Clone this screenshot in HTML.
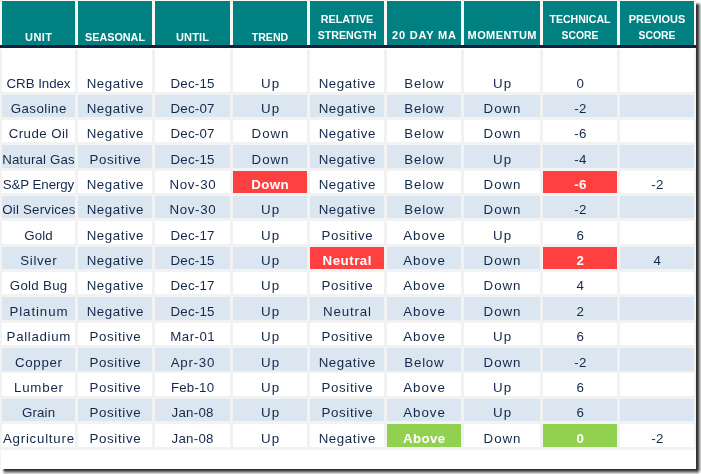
<!DOCTYPE html>
<html><head><meta charset="utf-8"><title>Seasonal technical score table</title>
<style>
html,body{margin:0;padding:0;background:#fff;}
body{width:701px;height:474px;overflow:hidden;position:relative;font-family:"Liberation Sans",sans-serif;}
#f{position:absolute;left:0;top:0;width:696px;height:469px;background:#fff;overflow:hidden;}
#f div{position:absolute;box-sizing:border-box;}
.hg{background:#f8f5f5;}
.h{background:#008080;color:#fff;font-weight:bold;font-size:11.0px;text-align:center;white-space:nowrap;}
.h span{position:absolute;left:0;right:0;line-height:16px;height:16px;}
.bg{background:#f2f2f2;}
.sr{position:absolute;left:696px;top:2px;width:5px;height:467px;background:linear-gradient(to right,#333 .5px,#3a3a3a 1.5px,#666 2.5px,#999 3.5px,#ccc 4.5px,#e4e4e4 5px);-webkit-mask-image:linear-gradient(to bottom,transparent 0,#000 3.6px);mask-image:linear-gradient(to bottom,transparent 0,#000 3.6px);}
.sb{position:absolute;left:2px;top:469px;width:694px;height:5px;background:linear-gradient(to bottom,#2e2e2e .5px,#484848 1.5px,#777 2.5px,#a5a5a5 3.5px,#ccc 4.5px,#e4e4e4 5px);-webkit-mask-image:linear-gradient(to right,transparent 0,#000 3px);mask-image:linear-gradient(to right,transparent 0,#000 3px);}
.sc{position:absolute;left:696px;top:469px;width:5px;height:5px;background:radial-gradient(circle at 0 0,#303030 .5px,#404040 1.5px,#6e6e6e 2.5px,#9f9f9f 3.5px,#ccc 4.5px,#f0f0f0 5.5px,#fff 6px);}
.c{color:#14284a;font-size:13.3px;letter-spacing:.4px;text-align:center;white-space:nowrap;overflow:hidden;}
.c span{position:absolute;left:0;right:0;bottom:0;line-height:20px;height:18px;}
.w{background:#fff;}
.b{background:#dce6f1;}
.r{background:#ff4040;color:#fff;font-weight:bold;}
.g{background:#92d050;color:#fff;font-weight:bold;}
</style></head><body><div id="f">

<div class="hg" style="left:0;top:0;width:696px;height:45px"></div>
<div class="h" style="left:2px;top:1px;width:73px;height:44px"><span style="top:27.5px;letter-spacing:0.38px;padding-left:0.38px">UNIT</span></div>
<div class="h" style="left:78px;top:1px;width:74px;height:44px"><span style="top:27.5px;transform:scaleX(0.981)">SEASONAL</span></div>
<div class="h" style="left:155px;top:1px;width:75px;height:44px"><span style="top:27.5px;letter-spacing:0.15px;padding-left:0.15px">UNTIL</span></div>
<div class="h" style="left:233px;top:1px;width:74px;height:44px"><span style="top:27.5px;transform:scaleX(0.965)">TREND</span></div>
<div class="h" style="left:310px;top:1px;width:74px;height:44px"><span style="top:9.7px;transform:scaleX(0.981)">RELATIVE</span><span style="top:25.7px;transform:scaleX(0.971)">STRENGTH</span></div>
<div class="h" style="left:387px;top:1px;width:74px;height:44px"><span style="top:25.7px;letter-spacing:0.79px;padding-left:0.79px">20 DAY MA</span></div>
<div class="h" style="left:464px;top:1px;width:76px;height:44px"><span style="top:25.7px;letter-spacing:0.4px;padding-left:0.4px">MOMENTUM</span></div>
<div class="h" style="left:543px;top:1px;width:74px;height:44px"><span style="top:9.7px;transform:scaleX(0.959)">TECHNICAL</span><span style="top:25.7px;transform:scaleX(0.944)">SCORE</span></div>
<div class="h" style="left:620px;top:1px;width:74px;height:44px"><span style="top:9.7px;transform:scaleX(0.994)">PREVIOUS</span><span style="top:25.7px;transform:scaleX(0.944)">SCORE</span></div>
<div style="left:0;top:45px;width:696px;height:3px;background:#0f2040"></div>
<div class="bg" style="left:0;top:49px;width:696px;height:401px"></div>
<div class="c w" style="left:2px;top:49px;width:73px;height:43px"><span style="letter-spacing:-0.04px;padding-left:0px">CRB Index</span></div>
<div class="c w" style="left:78px;top:49px;width:74px;height:43px"><span style="letter-spacing:0.6px;padding-left:0.6px">Negative</span></div>
<div class="c w" style="left:155px;top:49px;width:75px;height:43px"><span style="letter-spacing:0.21px;padding-left:0.21px">Dec-15</span></div>
<div class="c w" style="left:233px;top:49px;width:74px;height:43px"><span style="letter-spacing:1.2px;padding-left:1.2px">Up</span></div>
<div class="c w" style="left:310px;top:49px;width:74px;height:43px"><span style="letter-spacing:0.6px;padding-left:0.6px">Negative</span></div>
<div class="c w" style="left:387px;top:49px;width:74px;height:43px"><span style="letter-spacing:0.77px;padding-left:0.77px">Below</span></div>
<div class="c w" style="left:464px;top:49px;width:76px;height:43px"><span style="letter-spacing:1.2px;padding-left:1.2px">Up</span></div>
<div class="c w" style="left:543px;top:49px;width:74px;height:43px"><span style="padding-left:1px">0</span></div>
<div class="c w" style="left:620px;top:49px;width:74px;height:43px"><span></span></div>
<div class="c b" style="left:2px;top:95px;width:73px;height:22px"><span style="letter-spacing:0.46px;padding-left:0.46px">Gasoline</span></div>
<div class="c b" style="left:78px;top:95px;width:74px;height:22px"><span style="letter-spacing:0.6px;padding-left:0.6px">Negative</span></div>
<div class="c b" style="left:155px;top:95px;width:75px;height:22px"><span style="letter-spacing:0.21px;padding-left:0.21px">Dec-07</span></div>
<div class="c b" style="left:233px;top:95px;width:74px;height:22px"><span style="letter-spacing:1.2px;padding-left:1.2px">Up</span></div>
<div class="c b" style="left:310px;top:95px;width:74px;height:22px"><span style="letter-spacing:0.6px;padding-left:0.6px">Negative</span></div>
<div class="c b" style="left:387px;top:95px;width:74px;height:22px"><span style="letter-spacing:0.77px;padding-left:0.77px">Below</span></div>
<div class="c b" style="left:464px;top:95px;width:76px;height:22px"><span style="letter-spacing:0.93px;padding-left:0.93px">Down</span></div>
<div class="c b" style="left:543px;top:95px;width:74px;height:22px"><span style="padding-left:1px">-2</span></div>
<div class="c b" style="left:620px;top:95px;width:74px;height:22px"><span></span></div>
<div class="c w" style="left:2px;top:120px;width:73px;height:22px"><span style="letter-spacing:0.42px;padding-left:0.42px">Crude Oil</span></div>
<div class="c w" style="left:78px;top:120px;width:74px;height:22px"><span style="letter-spacing:0.6px;padding-left:0.6px">Negative</span></div>
<div class="c w" style="left:155px;top:120px;width:75px;height:22px"><span style="letter-spacing:0.21px;padding-left:0.21px">Dec-07</span></div>
<div class="c w" style="left:233px;top:120px;width:74px;height:22px"><span style="letter-spacing:0.93px;padding-left:0.93px">Down</span></div>
<div class="c w" style="left:310px;top:120px;width:74px;height:22px"><span style="letter-spacing:0.6px;padding-left:0.6px">Negative</span></div>
<div class="c w" style="left:387px;top:120px;width:74px;height:22px"><span style="letter-spacing:0.77px;padding-left:0.77px">Below</span></div>
<div class="c w" style="left:464px;top:120px;width:76px;height:22px"><span style="letter-spacing:0.93px;padding-left:0.93px">Down</span></div>
<div class="c w" style="left:543px;top:120px;width:74px;height:22px"><span style="padding-left:1px">-6</span></div>
<div class="c w" style="left:620px;top:120px;width:74px;height:22px"><span></span></div>
<div class="c b" style="left:2px;top:145px;width:73px;height:23px"><span style="letter-spacing:0.16px;padding-left:0.16px">Natural Gas</span></div>
<div class="c b" style="left:78px;top:145px;width:74px;height:23px"><span style="letter-spacing:0.66px;padding-left:0.66px">Positive</span></div>
<div class="c b" style="left:155px;top:145px;width:75px;height:23px"><span style="letter-spacing:0.21px;padding-left:0.21px">Dec-15</span></div>
<div class="c b" style="left:233px;top:145px;width:74px;height:23px"><span style="letter-spacing:0.93px;padding-left:0.93px">Down</span></div>
<div class="c b" style="left:310px;top:145px;width:74px;height:23px"><span style="letter-spacing:0.6px;padding-left:0.6px">Negative</span></div>
<div class="c b" style="left:387px;top:145px;width:74px;height:23px"><span style="letter-spacing:0.77px;padding-left:0.77px">Below</span></div>
<div class="c b" style="left:464px;top:145px;width:76px;height:23px"><span style="letter-spacing:1.2px;padding-left:1.2px">Up</span></div>
<div class="c b" style="left:543px;top:145px;width:74px;height:23px"><span style="padding-left:1px">-4</span></div>
<div class="c b" style="left:620px;top:145px;width:74px;height:23px"><span></span></div>
<div class="c w" style="left:2px;top:171px;width:73px;height:22px"><span style="letter-spacing:-0.08px;padding-left:0px">S&amp;P Energy</span></div>
<div class="c w" style="left:78px;top:171px;width:74px;height:22px"><span style="letter-spacing:0.6px;padding-left:0.6px">Negative</span></div>
<div class="c w" style="left:155px;top:171px;width:75px;height:22px"><span style="letter-spacing:0.67px;padding-left:0.67px">Nov-30</span></div>
<div class="c r" style="left:233px;top:171px;width:74px;height:22px"><span style="letter-spacing:0.4px;padding-left:0.4px">Down</span></div>
<div class="c w" style="left:310px;top:171px;width:74px;height:22px"><span style="letter-spacing:0.6px;padding-left:0.6px">Negative</span></div>
<div class="c w" style="left:387px;top:171px;width:74px;height:22px"><span style="letter-spacing:0.77px;padding-left:0.77px">Below</span></div>
<div class="c w" style="left:464px;top:171px;width:76px;height:22px"><span style="letter-spacing:0.93px;padding-left:0.93px">Down</span></div>
<div class="c r" style="left:543px;top:171px;width:74px;height:22px"><span style="padding-left:1px">-6</span></div>
<div class="c w" style="left:620px;top:171px;width:74px;height:22px"><span style="padding-left:1px">-2</span></div>
<div class="c b" style="left:2px;top:196px;width:73px;height:22px"><span style="letter-spacing:0.21px;padding-left:0.21px">Oil Services</span></div>
<div class="c b" style="left:78px;top:196px;width:74px;height:22px"><span style="letter-spacing:0.6px;padding-left:0.6px">Negative</span></div>
<div class="c b" style="left:155px;top:196px;width:75px;height:22px"><span style="letter-spacing:0.67px;padding-left:0.67px">Nov-30</span></div>
<div class="c b" style="left:233px;top:196px;width:74px;height:22px"><span style="letter-spacing:1.2px;padding-left:1.2px">Up</span></div>
<div class="c b" style="left:310px;top:196px;width:74px;height:22px"><span style="letter-spacing:0.6px;padding-left:0.6px">Negative</span></div>
<div class="c b" style="left:387px;top:196px;width:74px;height:22px"><span style="letter-spacing:0.77px;padding-left:0.77px">Below</span></div>
<div class="c b" style="left:464px;top:196px;width:76px;height:22px"><span style="letter-spacing:0.93px;padding-left:0.93px">Down</span></div>
<div class="c b" style="left:543px;top:196px;width:74px;height:22px"><span style="padding-left:1px">-2</span></div>
<div class="c b" style="left:620px;top:196px;width:74px;height:22px"><span></span></div>
<div class="c w" style="left:2px;top:221px;width:73px;height:23px"><span style="letter-spacing:0.14px;padding-left:0.14px">Gold</span></div>
<div class="c w" style="left:78px;top:221px;width:74px;height:23px"><span style="letter-spacing:0.6px;padding-left:0.6px">Negative</span></div>
<div class="c w" style="left:155px;top:221px;width:75px;height:23px"><span style="letter-spacing:0.21px;padding-left:0.21px">Dec-17</span></div>
<div class="c w" style="left:233px;top:221px;width:74px;height:23px"><span style="letter-spacing:1.2px;padding-left:1.2px">Up</span></div>
<div class="c w" style="left:310px;top:221px;width:74px;height:23px"><span style="letter-spacing:0.66px;padding-left:0.66px">Positive</span></div>
<div class="c w" style="left:387px;top:221px;width:74px;height:23px"><span style="letter-spacing:0.97px;padding-left:0.97px">Above</span></div>
<div class="c w" style="left:464px;top:221px;width:76px;height:23px"><span style="letter-spacing:1.2px;padding-left:1.2px">Up</span></div>
<div class="c w" style="left:543px;top:221px;width:74px;height:23px"><span style="padding-left:1px">6</span></div>
<div class="c w" style="left:620px;top:221px;width:74px;height:23px"><span></span></div>
<div class="c b" style="left:2px;top:247px;width:73px;height:22px"><span style="letter-spacing:0.61px;padding-left:0.61px">Silver</span></div>
<div class="c b" style="left:78px;top:247px;width:74px;height:22px"><span style="letter-spacing:0.6px;padding-left:0.6px">Negative</span></div>
<div class="c b" style="left:155px;top:247px;width:75px;height:22px"><span style="letter-spacing:0.21px;padding-left:0.21px">Dec-15</span></div>
<div class="c b" style="left:233px;top:247px;width:74px;height:22px"><span style="letter-spacing:1.2px;padding-left:1.2px">Up</span></div>
<div class="c r" style="left:310px;top:247px;width:74px;height:22px"><span style="letter-spacing:0.51px;padding-left:0.51px">Neutral</span></div>
<div class="c b" style="left:387px;top:247px;width:74px;height:22px"><span style="letter-spacing:0.97px;padding-left:0.97px">Above</span></div>
<div class="c b" style="left:464px;top:247px;width:76px;height:22px"><span style="letter-spacing:0.93px;padding-left:0.93px">Down</span></div>
<div class="c r" style="left:543px;top:247px;width:74px;height:22px"><span style="padding-left:1px">2</span></div>
<div class="c b" style="left:620px;top:247px;width:74px;height:22px"><span style="padding-left:1px">4</span></div>
<div class="c w" style="left:2px;top:272px;width:73px;height:22px"><span style="letter-spacing:0.29px;padding-left:0.29px">Gold Bug</span></div>
<div class="c w" style="left:78px;top:272px;width:74px;height:22px"><span style="letter-spacing:0.6px;padding-left:0.6px">Negative</span></div>
<div class="c w" style="left:155px;top:272px;width:75px;height:22px"><span style="letter-spacing:0.21px;padding-left:0.21px">Dec-17</span></div>
<div class="c w" style="left:233px;top:272px;width:74px;height:22px"><span style="letter-spacing:1.2px;padding-left:1.2px">Up</span></div>
<div class="c w" style="left:310px;top:272px;width:74px;height:22px"><span style="letter-spacing:0.66px;padding-left:0.66px">Positive</span></div>
<div class="c w" style="left:387px;top:272px;width:74px;height:22px"><span style="letter-spacing:0.97px;padding-left:0.97px">Above</span></div>
<div class="c w" style="left:464px;top:272px;width:76px;height:22px"><span style="letter-spacing:0.93px;padding-left:0.93px">Down</span></div>
<div class="c w" style="left:543px;top:272px;width:74px;height:22px"><span style="padding-left:1px">4</span></div>
<div class="c w" style="left:620px;top:272px;width:74px;height:22px"><span></span></div>
<div class="c b" style="left:2px;top:297px;width:73px;height:23px"><span style="letter-spacing:0.9px;padding-left:0.9px">Platinum</span></div>
<div class="c b" style="left:78px;top:297px;width:74px;height:23px"><span style="letter-spacing:0.6px;padding-left:0.6px">Negative</span></div>
<div class="c b" style="left:155px;top:297px;width:75px;height:23px"><span style="letter-spacing:0.21px;padding-left:0.21px">Dec-15</span></div>
<div class="c b" style="left:233px;top:297px;width:74px;height:23px"><span style="letter-spacing:1.2px;padding-left:1.2px">Up</span></div>
<div class="c b" style="left:310px;top:297px;width:74px;height:23px"><span style="letter-spacing:0.84px;padding-left:0.84px">Neutral</span></div>
<div class="c b" style="left:387px;top:297px;width:74px;height:23px"><span style="letter-spacing:0.97px;padding-left:0.97px">Above</span></div>
<div class="c b" style="left:464px;top:297px;width:76px;height:23px"><span style="letter-spacing:0.93px;padding-left:0.93px">Down</span></div>
<div class="c b" style="left:543px;top:297px;width:74px;height:23px"><span style="padding-left:1px">2</span></div>
<div class="c b" style="left:620px;top:297px;width:74px;height:23px"><span></span></div>
<div class="c w" style="left:2px;top:323px;width:73px;height:22px"><span style="letter-spacing:0.68px;padding-left:0.68px">Palladium</span></div>
<div class="c w" style="left:78px;top:323px;width:74px;height:22px"><span style="letter-spacing:0.66px;padding-left:0.66px">Positive</span></div>
<div class="c w" style="left:155px;top:323px;width:75px;height:22px"><span style="letter-spacing:0.48px;padding-left:0.48px">Mar-01</span></div>
<div class="c w" style="left:233px;top:323px;width:74px;height:22px"><span style="letter-spacing:1.2px;padding-left:1.2px">Up</span></div>
<div class="c w" style="left:310px;top:323px;width:74px;height:22px"><span style="letter-spacing:0.66px;padding-left:0.66px">Positive</span></div>
<div class="c w" style="left:387px;top:323px;width:74px;height:22px"><span style="letter-spacing:0.97px;padding-left:0.97px">Above</span></div>
<div class="c w" style="left:464px;top:323px;width:76px;height:22px"><span style="letter-spacing:1.2px;padding-left:1.2px">Up</span></div>
<div class="c w" style="left:543px;top:323px;width:74px;height:22px"><span style="padding-left:1px">6</span></div>
<div class="c w" style="left:620px;top:323px;width:74px;height:22px"><span></span></div>
<div class="c b" style="left:2px;top:348px;width:73px;height:23px"><span style="letter-spacing:0.68px;padding-left:0.68px">Copper</span></div>
<div class="c b" style="left:78px;top:348px;width:74px;height:23px"><span style="letter-spacing:0.66px;padding-left:0.66px">Positive</span></div>
<div class="c b" style="left:155px;top:348px;width:75px;height:23px"><span style="letter-spacing:0.76px;padding-left:0.76px">Apr-30</span></div>
<div class="c b" style="left:233px;top:348px;width:74px;height:23px"><span style="letter-spacing:1.2px;padding-left:1.2px">Up</span></div>
<div class="c b" style="left:310px;top:348px;width:74px;height:23px"><span style="letter-spacing:0.6px;padding-left:0.6px">Negative</span></div>
<div class="c b" style="left:387px;top:348px;width:74px;height:23px"><span style="letter-spacing:0.77px;padding-left:0.77px">Below</span></div>
<div class="c b" style="left:464px;top:348px;width:76px;height:23px"><span style="letter-spacing:0.93px;padding-left:0.93px">Down</span></div>
<div class="c b" style="left:543px;top:348px;width:74px;height:23px"><span style="padding-left:1px">-2</span></div>
<div class="c b" style="left:620px;top:348px;width:74px;height:23px"><span></span></div>
<div class="c w" style="left:2px;top:373px;width:73px;height:23px"><span style="letter-spacing:0.8px;padding-left:0.8px">Lumber</span></div>
<div class="c w" style="left:78px;top:373px;width:74px;height:23px"><span style="letter-spacing:0.66px;padding-left:0.66px">Positive</span></div>
<div class="c w" style="left:155px;top:373px;width:75px;height:23px"><span style="letter-spacing:0.21px;padding-left:0.21px">Feb-10</span></div>
<div class="c w" style="left:233px;top:373px;width:74px;height:23px"><span style="letter-spacing:1.2px;padding-left:1.2px">Up</span></div>
<div class="c w" style="left:310px;top:373px;width:74px;height:23px"><span style="letter-spacing:0.66px;padding-left:0.66px">Positive</span></div>
<div class="c w" style="left:387px;top:373px;width:74px;height:23px"><span style="letter-spacing:0.97px;padding-left:0.97px">Above</span></div>
<div class="c w" style="left:464px;top:373px;width:76px;height:23px"><span style="letter-spacing:1.2px;padding-left:1.2px">Up</span></div>
<div class="c w" style="left:543px;top:373px;width:74px;height:23px"><span style="padding-left:1px">6</span></div>
<div class="c w" style="left:620px;top:373px;width:74px;height:23px"><span></span></div>
<div class="c b" style="left:2px;top:399px;width:73px;height:22px"><span style="letter-spacing:0.17px;padding-left:0.17px">Grain</span></div>
<div class="c b" style="left:78px;top:399px;width:74px;height:22px"><span style="letter-spacing:0.66px;padding-left:0.66px">Positive</span></div>
<div class="c b" style="left:155px;top:399px;width:75px;height:22px"><span style="letter-spacing:0.25px;padding-left:0.25px">Jan-08</span></div>
<div class="c b" style="left:233px;top:399px;width:74px;height:22px"><span style="letter-spacing:1.2px;padding-left:1.2px">Up</span></div>
<div class="c b" style="left:310px;top:399px;width:74px;height:22px"><span style="letter-spacing:0.66px;padding-left:0.66px">Positive</span></div>
<div class="c b" style="left:387px;top:399px;width:74px;height:22px"><span style="letter-spacing:0.97px;padding-left:0.97px">Above</span></div>
<div class="c b" style="left:464px;top:399px;width:76px;height:22px"><span style="letter-spacing:1.2px;padding-left:1.2px">Up</span></div>
<div class="c b" style="left:543px;top:399px;width:74px;height:22px"><span style="padding-left:1px">6</span></div>
<div class="c b" style="left:620px;top:399px;width:74px;height:22px"><span></span></div>
<div class="c w" style="left:2px;top:424px;width:73px;height:23px"><span style="letter-spacing:0.75px;padding-left:0.75px">Agriculture</span></div>
<div class="c w" style="left:78px;top:424px;width:74px;height:23px"><span style="letter-spacing:0.66px;padding-left:0.66px">Positive</span></div>
<div class="c w" style="left:155px;top:424px;width:75px;height:23px"><span style="letter-spacing:0.25px;padding-left:0.25px">Jan-08</span></div>
<div class="c w" style="left:233px;top:424px;width:74px;height:23px"><span style="letter-spacing:1.2px;padding-left:1.2px">Up</span></div>
<div class="c w" style="left:310px;top:424px;width:74px;height:23px"><span style="letter-spacing:0.6px;padding-left:0.6px">Negative</span></div>
<div class="c g" style="left:387px;top:424px;width:74px;height:23px"><span style="letter-spacing:0.39px;padding-left:0.39px">Above</span></div>
<div class="c w" style="left:464px;top:424px;width:76px;height:23px"><span style="letter-spacing:0.93px;padding-left:0.93px">Down</span></div>
<div class="c g" style="left:543px;top:424px;width:74px;height:23px"><span style="padding-left:1px">0</span></div>
<div class="c w" style="left:620px;top:424px;width:74px;height:23px"><span style="padding-left:1px">-2</span></div>
<div style="left:0;top:450px;width:1px;height:19px;background:#f3f3f3"></div>
</div><div class="sr"></div><div class="sb"></div><div class="sc"></div></body></html>
